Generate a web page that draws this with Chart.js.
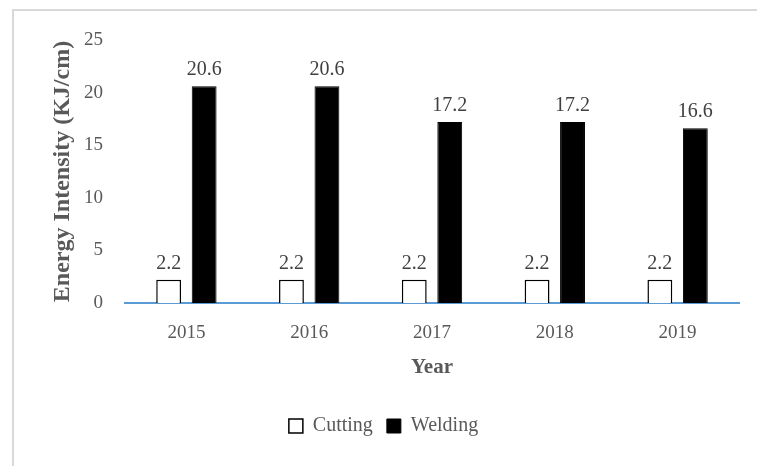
<!DOCTYPE html>
<html>
<head>
<meta charset="utf-8">
<script src="https://cdn.jsdelivr.net/npm/chart.js@4"></script>
<style>
    body { margin: 0; width: 757px; height: 466px; overflow: hidden; background: #fff; position: relative; }
    #frame { position: absolute; left: 12px; top: 9px; width: 800px; height: 500px; border: 2px solid #d9d9d9; box-sizing: border-box; }
    #wrap { position: absolute; left: 0; top: 0; width: 757px; height: 466px; }
</style>
</head>
<body>
<div id="frame"></div>
<div id="wrap"><canvas id="energyChart"></canvas></div>
<script>
// Chart data
const years = ['2015', '2016', '2017', '2018', '2019'];
const cuttingValues = [2.2, 2.2, 2.2, 2.2, 2.2];
const weldingValues = [20.6, 20.6, 17.2, 17.2, 16.6];
const yTicks = [0, 5, 10, 15, 20, 25];

const serif = "'Liberation Serif', 'DejaVu Serif', serif";

// Value labels drawn above each bar
const barLabels = {
    id: 'barLabels',
    afterDatasetsDraw(chart) {
        const ctx = chart.ctx;
        ctx.save();
        ctx.font = '20px ' + serif;
        ctx.fillStyle = '#404040';
        ctx.textAlign = 'center';
        ctx.textBaseline = 'alphabetic';
        chart.data.datasets.forEach(function(ds, i) {
            chart.getDatasetMeta(i).data.forEach(function(bar, j) {
                ctx.fillText(ds.data[j].toFixed(1), bar.x, bar.y - 11);
            });
        });
        ctx.restore();
    }
};

document.addEventListener('DOMContentLoaded', function() {
    const ctx = document.getElementById('energyChart');
    new Chart(ctx.getContext('2d'), {
        type: 'bar',
        data: {
            labels: years,
            datasets: [{
                label: 'Cutting',
                data: cuttingValues,
                backgroundColor: '#ffffff',
                borderColor: '#000000',
                borderWidth: 1.5,
                categoryPercentage: 0.578,
                barPercentage: 0.7
            }, {
                label: 'Welding',
                data: weldingValues,
                backgroundColor: '#000000',
                borderColor: '#000000',
                borderWidth: 1,
                categoryPercentage: 0.578,
                barPercentage: 0.7
            }]
        },
        options: {
            responsive: true,
            maintainAspectRatio: false,
            animation: false,
            layout: {
                padding: { left: 28, right: 18, top: 40, bottom: 20 }
            },
            plugins: {
                tooltip: { enabled: false },
                legend: {
                    position: 'bottom',
                    labels: {
                        color: '#595959',
                        font: { family: serif, size: 20 },
                        boxWidth: 14,
                        boxHeight: 14,
                        padding: 14
                    }
                }
            },
            scales: {
                x: {
                    grid: { display: false, drawTicks: false },
                    border: { display: true, color: '#5b9bd5', width: 2 },
                    ticks: {
                        color: '#595959',
                        font: { family: serif, size: 19 },
                        padding: 19
                    },
                    title: {
                        display: true,
                        text: 'Year',
                        color: '#595959',
                        font: { family: serif, size: 21, weight: 'bold' },
                        padding: { top: 10, bottom: 22 }
                    },
                    afterFit: function(scale) { scale.height = 99; }
                },
                y: {
                    min: 0,
                    max: 25,
                    afterBuildTicks: function(scale) {
                        scale.ticks = yTicks.map(function(v) { return { value: v }; });
                    },
                    grid: { display: false, drawTicks: false },
                    border: { display: false },
                    ticks: {
                        color: '#595959',
                        font: { family: serif, size: 19 },
                        padding: 22
                    },
                    title: {
                        display: true,
                        text: 'Energy Intensity (KJ/cm)',
                        color: '#595959',
                        font: { family: serif, size: 24, weight: 'bold' },
                        padding: { top: 20, bottom: 0 }
                    },
                    afterFit: function(scale) { scale.width = 97; }
                }
            }
        },
        plugins: [barLabels]
    });
});
</script>
</body>
</html>
